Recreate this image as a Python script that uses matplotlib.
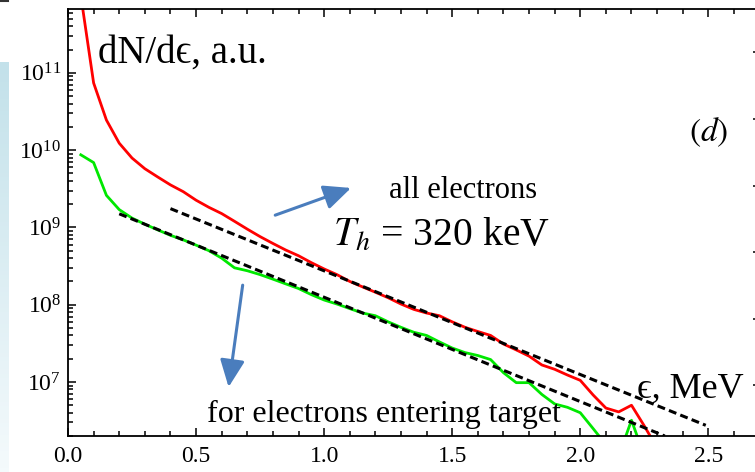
import matplotlib.pyplot as plt
import numpy as np
from matplotlib.colors import LinearSegmentedColormap
from matplotlib.ticker import LogLocator, NullFormatter, MultipleLocator, FormatStrFormatter
from matplotlib.lines import Line2D

plt.rcParams['font.family'] = 'serif'
plt.rcParams['font.serif'] = ['Liberation Serif', 'DejaVu Serif']
plt.rcParams['mathtext.fontset'] = 'stix'

SERIF = ['Liberation Serif', 'DejaVu Serif']

# энергия, МэВ
energy = [0.05, 0.10, 0.15, 0.20, 0.25, 0.30, 0.35, 0.40, 0.45, 0.50,
          0.55, 0.60, 0.65, 0.70, 0.75, 0.80, 0.85, 0.90, 0.95, 1.00,
          1.05, 1.10, 1.15, 1.20, 1.25, 1.30, 1.35, 1.40, 1.45, 1.50,
          1.55, 1.60, 1.65, 1.70, 1.75, 1.80, 1.85, 1.90, 1.95, 2.00,
          2.05, 2.10, 2.15, 2.20, 2.25, 2.30]

# все электроны
all_electrons = [1.0e12, 7.4e10, 2.45e10, 1.23e10, 7.9e9, 5.75e9, 4.5e9, 3.55e9, 2.9e9, 2.25e9,
                 1.82e9, 1.51e9, 1.2e9, 9.5e8, 7.6e8, 6.2e8, 5.1e8, 4.3e8, 3.5e8, 2.9e8,
                 2.45e8, 2.0e8, 1.7e8, 1.45e8, 1.23e8, 1.02e8, 8.7e7, 7.8e7, 7.2e7, 6.0e7,
                 5.1e7, 4.5e7, 4.0e7, 3.1e7, 2.6e7, 2.16e7, 1.66e7, 1.46e7, 1.23e7, 1.05e7,
                 6.8e6, 4.6e6, 4.1e6, 5.0e6, 2.7e6, 1.4e6]

# электроны, вошедшие в мишень
entering = [8.7e9, 6.9e9, 2.6e9, 1.7e9, 1.32e9, 1.1e9, 9.3e8, 7.9e8, 6.9e8, 5.9e8,
            5.0e8, 4.0e8, 3.0e8, 2.75e8, 2.45e8, 2.14e8, 1.86e8, 1.62e8, 1.35e8, 1.15e8,
            1.02e8, 8.9e7, 7.8e7, 7.2e7, 6.0e7, 5.1e7, 4.4e7, 4.0e7, 3.3e7, 2.75e7,
            2.4e7, 2.2e7, 1.95e7, 1.32e7, 9.8e6, 9.8e6, 6.9e6, 5.2e6, 4.7e6, 4.0e6,
            2.5e6, 1.55e6, 1.1e6, 3.2e6, 1.1e6]

# аппроксимации (Th = 320 кэВ)
fit_all_e = [0.40, 2.49]
fit_all_n = [1.75e9, 2.75e6]
fit_tgt_e = [0.20, 2.33]
fit_tgt_n = [1.5e9, 2.0e6]

fig = plt.figure(figsize=(7.55, 4.72), dpi=100)

# фон слайда слева
strip = fig.add_axes([0, 0, 9 / 755, 410 / 472])
strip.imshow(np.linspace(0, 1, 100).reshape(-1, 1), aspect='auto',
             cmap=LinearSegmentedColormap.from_list('bg', ['#c3e1ea', '#f4fafc']))
strip.axis('off')
fig.add_artist(Line2D([0, 8 / 755], [471 / 472, 471 / 472], color='#333333', lw=1.5))

ax = fig.add_axes([68 / 755, 36 / 472, 689 / 755, 427 / 472])
ax.set_yscale('log')
ax.plot(energy, all_electrons, color='#ff0000', lw=2.0)
ax.plot(energy[:len(entering)], entering, color='#00e800', lw=2.0)
ax.plot(fit_all_e, fit_all_n, color='black', lw=2.2, dashes=(2.6, 1.4))
ax.plot(fit_tgt_e, fit_tgt_n, color='black', lw=2.2, dashes=(2.6, 1.4))

ax.set_xlim(0, 2.69)
ax.set_ylim(2.0e6, 6.7e11)

ax.xaxis.set_major_locator(MultipleLocator(0.5))
ax.xaxis.set_minor_locator(MultipleLocator(0.1))
ax.xaxis.set_major_formatter(FormatStrFormatter('%.1f'))
ax.yaxis.set_major_locator(LogLocator(base=10, numticks=20))
ax.yaxis.set_minor_locator(LogLocator(base=10, subs=np.arange(2, 10), numticks=20))
ax.yaxis.set_minor_formatter(NullFormatter())
ax.tick_params(which='both', direction='in', top=True, right=False, width=1.1, labelsize=17)
ax.tick_params(which='major', length=6)
ax.tick_params(which='minor', length=3.5)
ax.tick_params(axis='x', pad=7)
ax.tick_params(axis='y', pad=5)
for sp in ax.spines.values():
    sp.set_linewidth(1.3)

# засечки соседней панели справа
ax2 = ax.twinx()
ax2.set_ylim(-0.76, 5.65)
ax2.set_yticks(range(6))
ax2.tick_params(direction='in', length=3, width=1.1, labelright=False)
for sp in ax2.spines.values():
    sp.set_visible(False)

ax.text(0.118, 1.34e11, 'dN/dϵ, a.u.', fontsize=28, ha='left', va='baseline', family=SERIF)
ax.text(2.5, 1.71e10, r'$(d)$', fontsize=24, ha='center', va='center')
ax.text(1.543, 2.37e9, 'all electrons', fontsize=22, ha='center', va='baseline')
ax.text(1.035, 5.9e8, r'$T_h$ = 320 keV', fontsize=28.5, ha='left', va='baseline')
ax.text(2.223, 6.2e6, 'ϵ, MeV', fontsize=26, ha='left', va='baseline', family=SERIF)
ax.text(0.543, 3.0e6, 'for electrons entering target', fontsize=23, ha='left', va='baseline')

arrow = dict(arrowstyle='-|>,head_length=0.55,head_width=0.25', color='#4a7dbd',
             lw=2.2, shrinkA=0, shrinkB=0, mutation_scale=30)
ax.annotate('', xy=(1.105, 3.24e9), xytext=(0.809, 1.44e9), arrowprops=arrow)
ax.annotate('', xy=(0.627, 8.6e6), xytext=(0.682, 1.79e8), arrowprops=arrow)

fig.savefig('out.png', dpi=100)
